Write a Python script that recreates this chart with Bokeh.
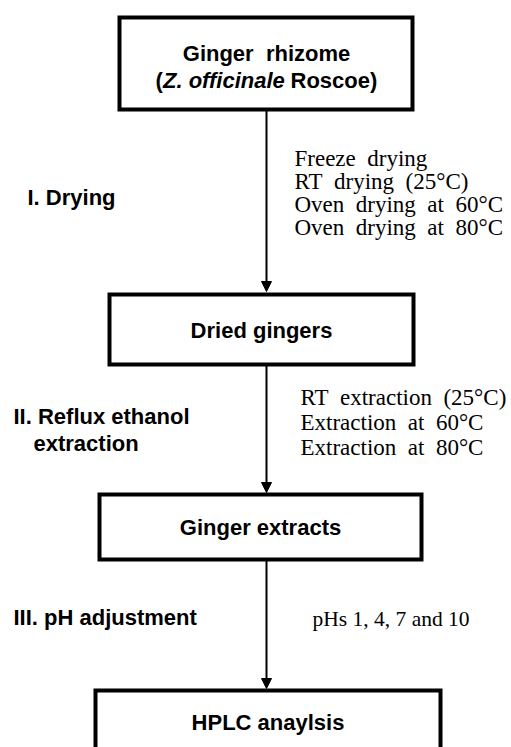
from bokeh.plotting import figure
from bokeh.models import Range1d, Arrow, NormalHead
from bokeh.core.properties import value
from bokeh.embed import file_html
from bokeh.resources import INLINE

# ---- content (text of the flow chart) ----
box_titles = ["Ginger rhizome", "Dried gingers", "Ginger extracts", "HPLC anaylsis"]
species_parts = ["(", "Z. officinale", "Roscoe)"]
stage_labels = ["I. Drying", "II. Reflux ethanol", "extraction", "III. pH adjustment"]
drying_methods = ["Freeze drying", "RT drying (25\u00b0C)",
                  "Oven drying at 60\u00b0C", "Oven drying at 80\u00b0C"]
extraction_methods = ["RT extraction (25\u00b0C)", "Extraction at 60\u00b0C",
                      "Extraction at 80\u00b0C"]
ph_conditions = ["pHs 1, 4, 7 and 10"]

# ---- layout (page pixel coordinates) ----
box_left = [119, 109, 99, 95]
box_right = [412, 413, 421, 440]
box_top = [17, 294, 494, 690]
box_bottom = [109, 364, 559, 790]
title_y = [53, 330, 527, 722]
species_x = [155, 162.5, 290]
species_y = 80
stage_x = [27, 13, 33, 13]
stage_y = [197, 416, 443, 617]
drying_x = 294
drying_y = [158, 181, 204, 227]
extraction_x = 300
extraction_y = [397, 422, 447]
ph_x, ph_y = 312, 618
arrow_x = 266
arrow_from = [109, 364, 559]
arrow_to = [291, 492, 688]

SANS = value("Liberation Sans")
SERIF = value("Liberation Serif")


def wide(s):
    # the conditions are typeset with wide word spacing
    return s.replace(" ", "\u00a0\u00a0")


p = figure(width=511, height=747, x_range=Range1d(0, 511), y_range=Range1d(747, 0),
           output_backend="svg", toolbar_location=None, min_border=0)
p.axis.visible = False
p.grid.visible = False
p.outline_line_color = None
p.background_fill_color = "white"

# boxes
p.quad(left=box_left, right=box_right, top=box_top, bottom=box_bottom,
       fill_color="white", line_color="black", line_width=4, line_join="miter")

# arrows
for y0, y1 in zip(arrow_from, arrow_to):
    p.add_layout(Arrow(end=NormalHead(size=10, fill_color="black", line_color="black", line_width=1),
                       x_start=arrow_x, y_start=y0, x_end=arrow_x, y_end=y1,
                       line_width=2, line_color="black"))

# box titles
centers = [(l + r) / 2 for l, r in zip(box_left, box_right)]
centers[0] = arrow_x
titles_shown = [box_titles[0].replace(" ", "\u00a0\u00a0")] + box_titles[1:]
p.text(x=centers, y=title_y, text=titles_shown, text_font=SANS, text_font_style="bold",
       text_font_size="22px", text_align="center", text_baseline="middle", text_color="black")

# species line with italic part
p.text(x=[species_x[0], species_x[2]], y=[species_y, species_y],
       text=[species_parts[0], species_parts[2]], text_font=SANS, text_font_style="bold",
       text_font_size="22px", text_align="left", text_baseline="middle", text_color="black")
p.text(x=[species_x[1]], y=[species_y], text=[species_parts[1]], text_font=SANS,
       text_font_style="bold italic", text_font_size="22px", text_align="left",
       text_baseline="middle", text_color="black")

# stage labels (left)
p.text(x=stage_x, y=stage_y, text=stage_labels, text_font=SANS, text_font_style="bold",
       text_font_size="22px", text_align="left", text_baseline="middle", text_color="black")

# conditions (right)
p.text(x=[drying_x] * len(drying_methods), y=drying_y, text=[wide(s) for s in drying_methods],
       text_font=SERIF, text_font_size="23px", text_align="left", text_baseline="middle",
       text_color="black")
p.text(x=[extraction_x] * len(extraction_methods), y=extraction_y,
       text=[wide(s) for s in extraction_methods], text_font=SERIF, text_font_size="23px",
       text_align="left", text_baseline="middle", text_color="black")
p.text(x=[ph_x], y=[ph_y], text=ph_conditions, text_font=SERIF,
       text_font_size="21.5px", text_align="left", text_baseline="middle", text_color="black")

open("out.html", "w").write(file_html(p, INLINE))
